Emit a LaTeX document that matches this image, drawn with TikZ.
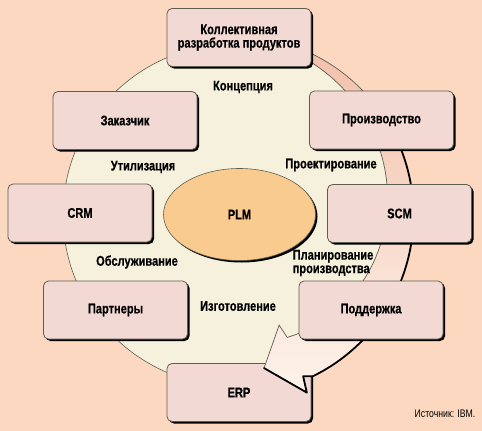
\documentclass[tikz,border=0pt]{standalone}
\usepackage{fontspec}
\setmainfont{Liberation Sans}[FakeStretch=0.79, BoldFeatures={FakeBold=0.4}]
\usetikzlibrary{shadows,shapes.geometric}
\definecolor{bgc}{HTML}{FBD8BF}
\definecolor{creamc}{HTML}{F5F1DC}
\definecolor{boxfill}{HTML}{F3D9D3}
\definecolor{boxline}{HTML}{5E5E50}
\definecolor{plmc}{HTML}{FACB8F}
\definecolor{bandtop}{HTML}{F2BFAA}
\definecolor{bandbot}{HTML}{FDF3EA}
\begin{document}
\begin{tikzpicture}[x=1pt,y=-1pt,
  box/.style={draw=boxline, line width=0.8pt, fill=boxfill, rounded corners=5pt,
    minimum width=144pt, minimum height=58pt, align=center, inner sep=0pt,
    font=\bfseries\fontsize{14}{13.5}\selectfont,
    drop shadow={shadow xshift=2pt, shadow yshift=-2pt, fill=black, opacity=1}},
  lbl/.style={font=\bfseries\fontsize{14}{13.5}\selectfont, inner sep=0pt, align=left},
  thinline/.style={draw=boxline, line width=0.7pt},
  shadline/.style={draw=black, line width=1.8pt, line cap=round, line join=round}]
\useasboundingbox (0,0) rectangle (482,431);
\fill[bgc] (0,0) rectangle (482,431);
% cream circle
\node[circle, minimum size=342pt, fill=creamc, draw=boxline, line width=0.6pt, inner sep=0pt] (ring) at (234,215) {};
% ERP box (below band)
\node[box] (erp) at (239,392.5) {ERP};
% band arrow
\begin{scope}[shift={(234,215)}]
  \path[top color=bandtop, bottom color=bandbot]
    plot[domain=-80:64, samples=80] (\x:179) -- (66.8:175) -- (67.7:192) -- (78.9:156)
    -- (67.7:119) -- (66.5:133.4)
    -- plot[domain=66.5:-80, samples=80] (\x:{171-0.29*(\x+63)}) -- cycle;
  \draw[thinline] plot[domain=-80:66.5, samples=80] (\x:{171-0.29*(\x+63)})
    -- (67.7:119) -- (78.9:156);
  \draw[thinline] plot[domain=-80:-36, samples=40] (\x:179);
  \draw[shadline] plot[domain=-38:64, samples=80] (\x:179.5) -- (66.8:175.5) -- (67.7:192) -- (78.9:156);
\end{scope}
% PLM ellipse
\node[ellipse, minimum width=152pt, minimum height=92pt, fill=plmc, draw=boxline, line width=0.6pt,
  inner sep=0pt, font=\bfseries\fontsize{14}{13.5}\selectfont,
  drop shadow={shadow xshift=2pt, shadow yshift=-2pt, fill=black, opacity=1}] (plm) at (239.5,214.5) {PLM};
% boxes
\node[box] (kollekt) at (239,37.5) {Коллективная\\разработка продуктов};
\node[box] (proizv) at (381.5,120) {Производство};
\node[box] (scm) at (399.5,213.5) {SCM};
\node[box] (podd) at (371,310) {Поддержка};
\node[box] (partn) at (115.5,310) {Партнеры};
\node[box] (crm) at (80,213) {CRM};
\node[box] (zakaz) at (125,120.5) {Заказчик};
% stage labels
\node[lbl] (l1) at (243,87) {Концепция};
\node[lbl] (l2) at (331,165) {Проектирование};
\node[lbl] (l3) at (143,167) {Утилизация};
\node[lbl] (l4) at (137,262) {Обслуживание};
\node[lbl] (l5) at (238,306) {Изготовление};
\node[lbl, align=left] (l6) at (333,263) {Планирование\\производства};
\node[font=\fontsize{11}{12}\selectfont, inner sep=0pt] (src) at (445,414) {Источник: IBM.};
\end{tikzpicture}
\end{document}
